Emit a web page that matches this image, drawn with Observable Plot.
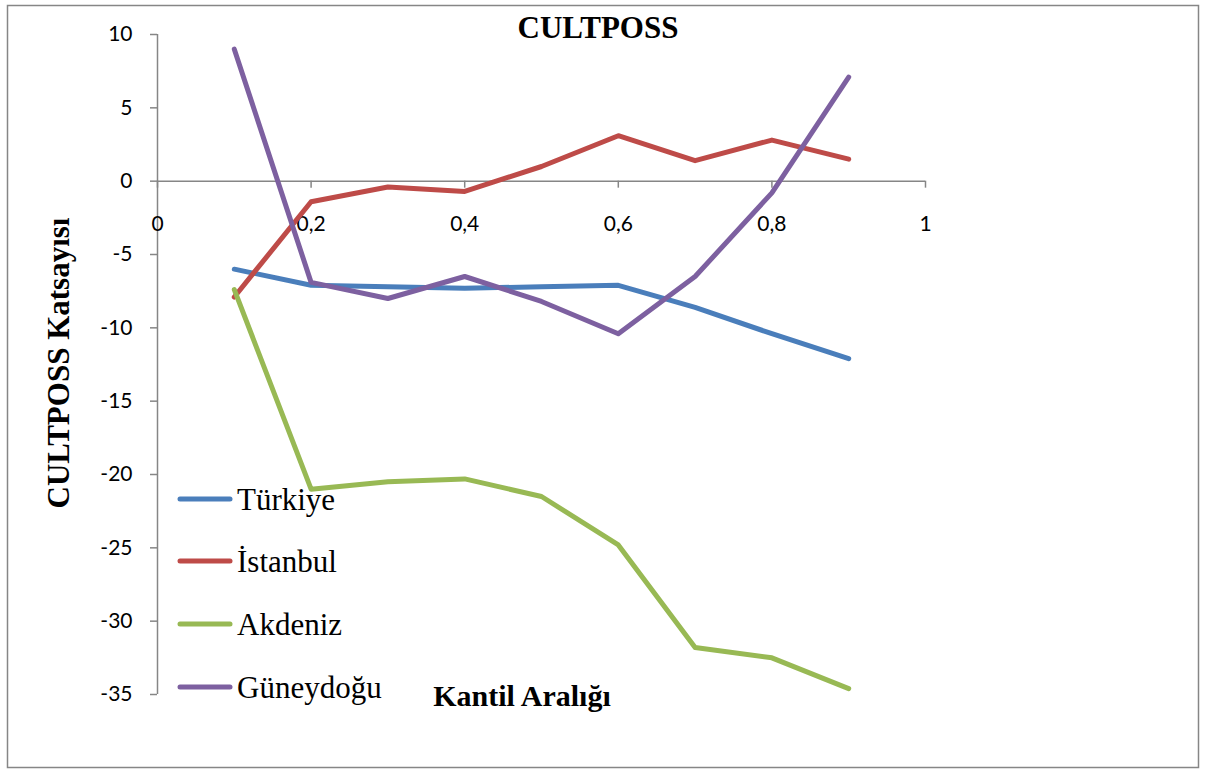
<!DOCTYPE html>
<html>
<head>
<meta charset="utf-8">
<script src="https://cdn.jsdelivr.net/npm/d3@7"></script>
<script src="https://cdn.jsdelivr.net/npm/@observablehq/plot@0.6"></script>
<style>
  html, body { margin: 0; padding: 0; background: #fff; }
  #wrap { position: relative; width: 1205px; height: 770px; overflow: hidden; }
  #wrap > svg { position: absolute; left: 0; top: 0; }
</style>
</head>
<body>
<div id="wrap"></div>
<script>
// ---- Data ----
const quantiles = [0.1, 0.2, 0.3, 0.4, 0.5, 0.6, 0.7, 0.8, 0.9];
const seriesNames = ["Türkiye", "İstanbul", "Akdeniz", "Güneydoğu"];
const seriesColors = ["#4A7EBB", "#BE4B48", "#98B954", "#7D60A0"];
const turkiye   = [-6.0, -7.1, -7.2, -7.3, -7.2, -7.1, -8.6, -10.4, -12.1];
const istanbul  = [-7.9, -1.4, -0.4, -0.7, 1.0, 3.1, 1.4, 2.8, 1.5];
const akdeniz   = [-7.4, -21.0, -20.5, -20.3, -21.5, -24.8, -31.8, -32.5, -34.6];
const guneydogu = [9.0, -6.9, -8.0, -6.5, -8.2, -10.4, -6.5, -0.8, 7.1];
const xTicks = [0, 0.2, 0.4, 0.6, 0.8, 1];
const yTicks = [10, 5, 0, -5, -10, -15, -20, -25, -30, -35];
const titleText = "CULTPOSS";
const xLabel = "Kantil Aralığı";
const yLabel = "CULTPOSS Katsayısı";

const allSeries = [turkiye, istanbul, akdeniz, guneydogu];
const rows = [];
allSeries.forEach((vals, si) => {
  vals.forEach((v, i) => rows.push({series: seriesNames[si], x: quantiles[i], y: v}));
});

// ---- Layout ----
const W = 1205, H = 770;
const mL = 157, mR = 280, mT = 34, mB = 76;
const yDomain = [-35, 10];
const yPix = d3.scaleLinear().domain(yDomain).range([H - mB, mT]);
const axisShift = yPix(0) - (H - mB);
const fmt = d => String(d).replace(".", ",");
const gray = "#868686";

const chart = Plot.plot({
  width: W, height: H,
  marginLeft: mL, marginRight: mR, marginTop: mT, marginBottom: mB,
  style: {fontFamily: "Lato, 'Open Sans', sans-serif", fontSize: "21px", color: "#000", background: "transparent"},
  x: {domain: [0, 1]},
  y: {domain: yDomain},
  color: {domain: seriesNames, range: seriesColors},
  marks: [
    Plot.ruleX([0], {stroke: gray, strokeWidth: 1.5}),
    Plot.ruleY([0], {stroke: gray, strokeWidth: 1.5}),
    Plot.axisY({ticks: yTicks, tickSize: 7, tickPadding: 18, tickFormat: d => String(d), stroke: gray, strokeWidth: 1.5, fill: "#000", fontSize: 21, label: null}),
    Plot.axisX({anchor: "bottom", ticks: xTicks, tickSize: 7, tickPadding: 28, tickFormat: fmt, dy: axisShift, stroke: gray, strokeWidth: 1.5, fill: "#000", fontSize: 21, label: null}),
    Plot.line(rows, {x: "x", y: "y", z: "series", stroke: "series", strokeWidth: 5, strokeLinejoin: "round", strokeLinecap: "round"})
  ]
});

const wrap = document.getElementById("wrap");
wrap.appendChild(chart);

// ---- Overlay: border, titles, legend ----
const ns = "http://www.w3.org/2000/svg";
const ov = document.createElementNS(ns, "svg");
ov.setAttribute("width", W); ov.setAttribute("height", H);
ov.style.pointerEvents = "none";
function el(tag, attrs, text) {
  const e = document.createElementNS(ns, tag);
  for (const k in attrs) e.setAttribute(k, attrs[k]);
  if (text != null) e.textContent = text;
  ov.appendChild(e);
  return e;
}
el("rect", {x: 7.5, y: 5.5, width: 1191, height: 762, fill: "none", stroke: gray, "stroke-width": 1.5});
const serif = "'Liberation Serif', 'Times New Roman', serif";
el("text", {x: 598, y: 38, "text-anchor": "middle", "font-family": serif, "font-weight": "bold", "font-size": 31}, titleText);
el("text", {x: 522, y: 706, "text-anchor": "middle", "font-family": serif, "font-weight": "bold", "font-size": 30}, xLabel);
el("text", {x: 0, y: 0, transform: "translate(69,363) rotate(-90)", "text-anchor": "middle", "font-family": serif, "font-weight": "bold", "font-size": 31}, yLabel);
const legendY = [499, 561, 624, 687];
seriesNames.forEach((name, i) => {
  el("line", {x1: 180, x2: 230, y1: legendY[i], y2: legendY[i], stroke: seriesColors[i], "stroke-width": 5, "stroke-linecap": "round"});
  el("text", {x: 237, y: legendY[i] + 11, "font-family": serif, "font-size": 31}, name);
});
wrap.appendChild(ov);
</script>
</body>
</html>
